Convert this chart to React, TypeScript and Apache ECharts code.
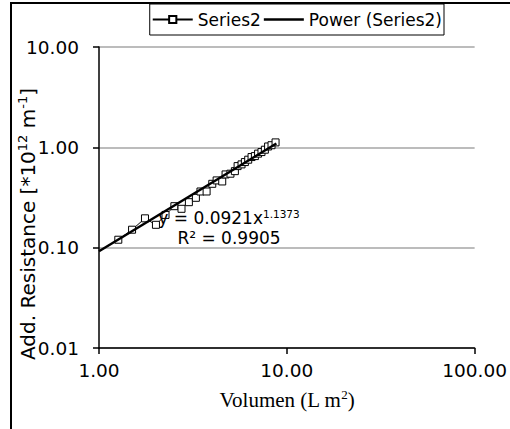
import React, { useEffect, useRef } from "react";
import * as echarts from "echarts";

// Measured data (Volumen in L m², Add. Resistance in 1e12 m^-1)
const xValues = [1.267, 1.5, 1.757, 2.01, 2.26, 2.52, 2.75, 3.01, 3.28, 3.47, 3.74, 4.01, 4.23, 4.53, 4.72, 5.01, 5.29, 5.47, 5.74, 5.98, 6.23, 6.49, 6.76, 7.03, 7.33, 7.64, 7.95, 8.29, 8.71];
const yValues = [0.12, 0.151, 0.196, 0.169, 0.212, 0.259, 0.244, 0.284, 0.314, 0.363, 0.363, 0.433, 0.468, 0.457, 0.537, 0.546, 0.579, 0.65, 0.676, 0.713, 0.753, 0.8, 0.818, 0.865, 0.897, 0.947, 1.02, 1.05, 1.12];

// Power trendline end points (y = 0.0921x^1.1373)
const trendX = [1, 8.8];
const trendY = [0.0921, 1.093];

const seriesName = "Series2";
const trendName = "Power (Series2)";
const equationText = "y = 0.0921x";
const equationExp = "1.1373";
const r2Text = "R² = 0.9905";

const SANS = "DejaVu Sans";
const SERIF = "Liberation Serif";

export default function App() {
  const ref = useRef<HTMLDivElement>(null);
  useEffect(() => {
    if (!ref.current) return;
    const chart = echarts.init(ref.current, null, { renderer: "svg" });
    const fmt = (v: number) => Number(v).toFixed(2);
    chart.setOption({
      animation: false,
      backgroundColor: "#ffffff",
      grid: { left: 99, right: 35, top: 47, bottom: 81 },
      legend: {
        top: 4,
        right: 66,
        itemWidth: 40,
        itemHeight: 9,
        itemGap: 3,
        padding: [7, 2, 7, 2],
        borderColor: "#000",
        borderWidth: 1,
        borderRadius: 0,
        textStyle: { fontFamily: SANS, fontSize: 17, color: "#000" },
        data: [
          { name: seriesName },
          { name: trendName, icon: "path://M0,0L40,0L40,2.5L0,2.5Z", itemStyle: { color: "#000" } },
        ],
      },
      xAxis: {
        type: "log",
        logBase: 10,
        min: 1,
        max: 100,
        axisLine: { show: true, lineStyle: { color: "#000", width: 1.5 } },
        axisTick: { show: true, inside: false, length: 6, lineStyle: { color: "#000", width: 1.5 } },
        minorTick: { show: false },
        splitLine: { show: false },
        axisLabel: { formatter: fmt, fontFamily: SANS, fontSize: 18.5, color: "#000", margin: 13 },
      },
      yAxis: {
        type: "log",
        logBase: 10,
        min: 0.01,
        max: 10,
        axisLine: { show: true, lineStyle: { color: "#000", width: 1.5 } },
        axisTick: { show: true, inside: false, length: 6, lineStyle: { color: "#000", width: 1.5 } },
        splitLine: { show: true, lineStyle: { color: "#a6a6a6", width: 1.5 } },
        axisLabel: { formatter: fmt, fontFamily: SANS, fontSize: 18.5, color: "#000", margin: 20, padding: [5, 0, 0, 0] },
      },
      series: [
        {
          name: seriesName,
          type: "line",
          data: xValues.map((x, i) => [x, yValues[i]]),
          symbol: "rect",
          symbolSize: 7,
          itemStyle: { color: "#ffffff", borderColor: "#000", borderWidth: 1 },
          lineStyle: { color: "#000", width: 1 },
          z: 2,
        },
        {
          name: trendName,
          type: "line",
          data: trendX.map((x, i) => [x, trendY[i]]),
          symbol: "none",
          lineStyle: { color: "#000", width: 2.5 },
          itemStyle: { color: "#000" },
          z: 3,
        },
      ],
      graphic: [
        {
          type: "rect",
          shape: { x: 11, y: 3, width: 800, height: 800 },
          style: { fill: "none", stroke: "#000", lineWidth: 2 },
          silent: true,
          z: 100,
        },
        {
          type: "text",
          x: 229,
          y: 228,
          z: 50,
          style: {
            text: `{a|${equationText}}{s|${equationExp}}\n{a|${r2Text}}`,
            align: "center",
            verticalAlign: "middle",
            fill: "#000",
            rich: {
              a: { fontFamily: SANS, fontSize: 17, lineHeight: 20, fill: "#000" },
              s: { fontFamily: SANS, fontSize: 10.5, lineHeight: 11, verticalAlign: "top", fill: "#000" },
            },
          },
        },
        {
          type: "text",
          x: 28,
          y: 224,
          rotation: Math.PI / 2,
          z: 50,
          style: {
            text: "{a|Add. Resistance [*10}{s|12}{a| m}{s|-1}{a|]}",
            align: "center",
            verticalAlign: "middle",
            fill: "#000",
            rich: {
              a: { fontFamily: SANS, fontSize: 20, lineHeight: 24, fill: "#000" },
              s: { fontFamily: SANS, fontSize: 13, lineHeight: 13, verticalAlign: "top", fill: "#000" },
            },
          },
        },
        {
          type: "text",
          x: 287,
          y: 400,
          z: 50,
          style: {
            text: "{a|Volumen (L m}{s|2}{a|)}",
            align: "center",
            verticalAlign: "middle",
            fill: "#000",
            rich: {
              a: { fontFamily: SERIF, fontSize: 21, lineHeight: 24, fill: "#000" },
              s: { fontFamily: SERIF, fontSize: 13, lineHeight: 14, verticalAlign: "top", fill: "#000" },
            },
          },
        },
      ],
    });
    return () => chart.dispose();
  }, []);
  return (
    <div
      ref={ref}
      style={{ position: "absolute", left: 0, top: 0, width: 510, height: 429 }}
    />
  );
}
